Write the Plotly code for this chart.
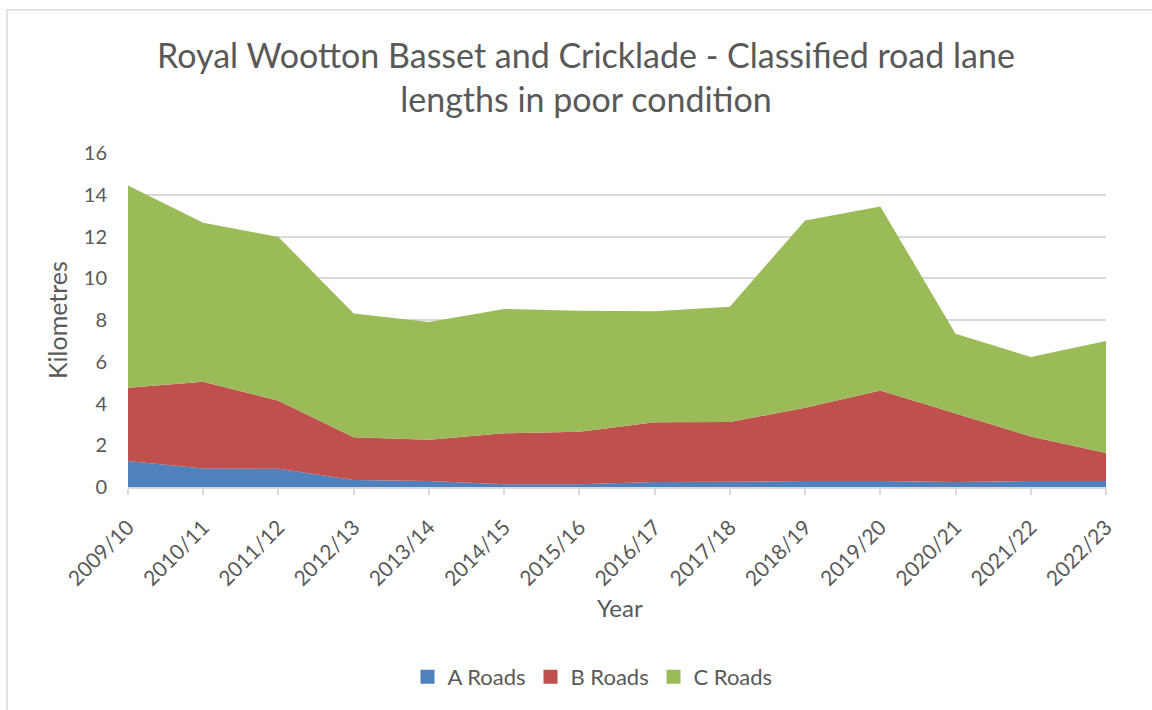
import plotly.graph_objects as go

years = ["2009/10", "2010/11", "2011/12", "2012/13", "2013/14", "2014/15", "2015/16",
         "2016/17", "2017/18", "2018/19", "2019/20", "2020/21", "2021/22", "2022/23"]
a_roads = [1.24, 0.89, 0.87, 0.33, 0.29, 0.13, 0.13, 0.24, 0.25, 0.29, 0.29, 0.24, 0.29, 0.29]
b_roads = [3.51, 4.15, 3.26, 2.05, 1.97, 2.44, 2.52, 2.86, 2.86, 3.51, 4.33, 3.29, 2.13, 1.34]
c_roads = [9.69, 7.62, 7.85, 5.93, 5.64, 5.96, 5.79, 5.32, 5.53, 8.97, 8.82, 3.81, 3.81, 5.36]
y_ticks = [0, 2, 4, 6, 8, 10, 12, 14, 16]

FONT = "Lato, 'Open Sans', sans-serif"
TXT = "#595959"
GRID = "#d9d9d9"

series = [("A Roads", a_roads, "#4F81BD"),
          ("B Roads", b_roads, "#C0504D"),
          ("C Roads", c_roads, "#9BBB59")]

fig = go.Figure()
for name, vals, col in series:
    fig.add_trace(go.Scatter(
        x=years, y=vals, name=name, mode="lines", showlegend=False,
        stackgroup="one", line=dict(width=0, color=col),
        fillcolor=col, hoverinfo="x+y+name"))
# legend swatches (square markers, like the original)
for name, vals, col in series:
    fig.add_trace(go.Scatter(
        x=[None], y=[None], name=name, mode="markers",
        marker=dict(symbol="square", size=14, color=col),
        showlegend=True, hoverinfo="skip"))

W, H = 1152, 710
L, R, T, B = 128, 46, 153, 221
pw = W - L - R
ph = H - T - B

def px2x(px):
    return (px - L) / pw

def py2y(py):
    return (H - B - py) / ph

bx0, by0 = px2x(7), py2y(760)
by1, bx1 = py2y(9), px2x(1200)

fig.update_layout(
    width=W, height=H,
    margin=dict(l=L, r=R, t=T, b=B),
    paper_bgcolor="white", plot_bgcolor="white",
    font=dict(family=FONT, color=TXT, size=19),
    title=dict(
        text="Royal Wootton Basset and Cricklade - Classified road lane<br>lengths in poor condition",
        x=586 / W, xanchor="center", y=1 - 68 / H, yanchor="middle",
        font=dict(family=FONT, size=34, color=TXT)),
    showlegend=True,
    legend=dict(orientation="h", x=px2x(592), xanchor="center",
                y=py2y(680), yanchor="middle",
                font=dict(family=FONT, size=22, color=TXT),
                itemsizing="trace", itemwidth=30, traceorder="normal",
                entrywidth=78, entrywidthmode="pixels"),
    xaxis=dict(
        type="category", range=[0, len(years) - 1],
        showgrid=False, showline=True, linecolor=GRID, linewidth=1.5,
        ticks="outside", ticklen=6, tickcolor=GRID, tickwidth=1.5,
        tickangle=-45, tickfont=dict(family=FONT, size=21, color=TXT),
        ticklabelstandoff=12,
        zeroline=False, fixedrange=True),
    yaxis=dict(
        range=[0, 16], tickvals=y_ticks, ticktext=[str(v) for v in y_ticks],
        showgrid=True, gridcolor=GRID, gridwidth=1.5,
        showline=False, zeroline=False, ticks="", ticklabelstandoff=20,
        tickfont=dict(family=FONT, size=20, color=TXT), fixedrange=True),
    annotations=[
        dict(text="Year", xref="paper", yref="paper", x=px2x(620), y=py2y(610),
             xanchor="center", yanchor="middle", showarrow=False,
             font=dict(family=FONT, size=24, color=TXT)),
        dict(text="Kilometres", xref="paper", yref="paper", x=px2x(57), y=py2y(321),
             xanchor="center", yanchor="middle", showarrow=False, textangle=-90,
             font=dict(family=FONT, size=25, color=TXT)),
    ],
    shapes=[dict(type="path", xref="paper", yref="paper",
                 path=f"M {bx0} {by0} L {bx0} {by1} L {bx1} {by1}",
                 line=dict(color=GRID, width=1.5), layer="below")],
)

fig.write_html("out.html", config={"displayModeBar": False},
               post_script="document.body.style.margin='0';document.body.style.overflow='hidden';")
